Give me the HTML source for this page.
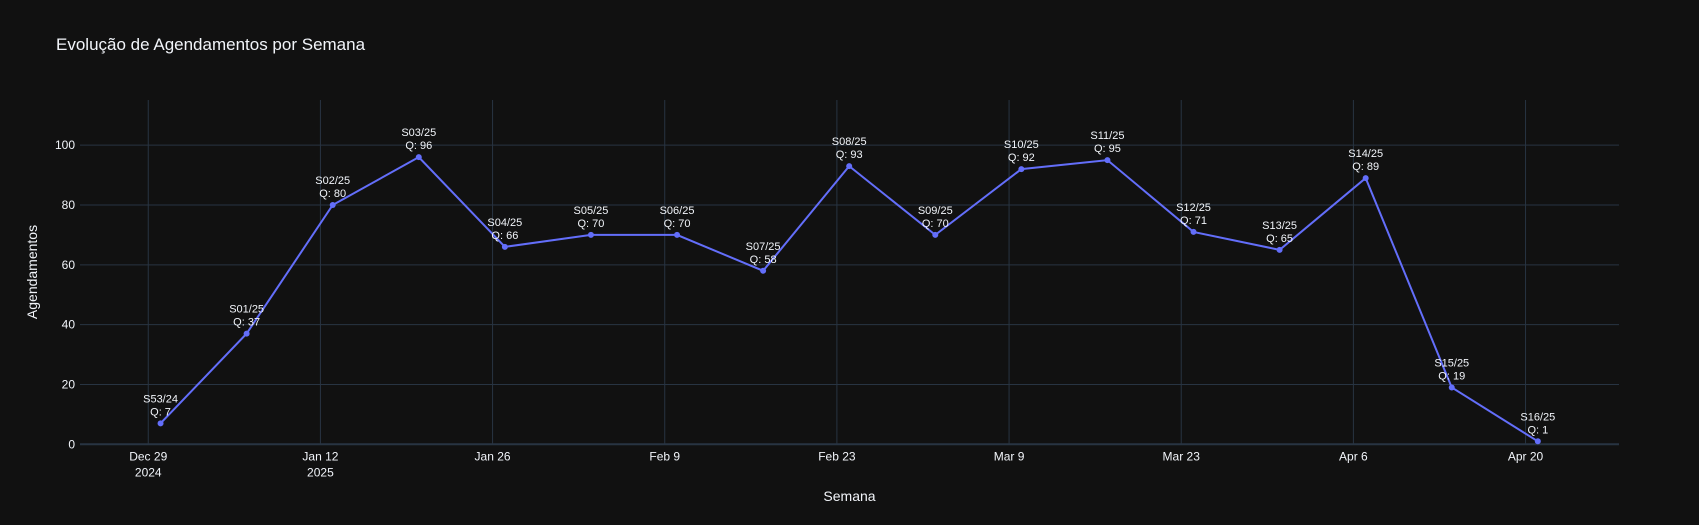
<!DOCTYPE html>
<html><head><meta charset="utf-8"><style>
html,body{margin:0;padding:0;background:#111111;}
svg{display:block;font-family:"Liberation Sans","DejaVu Sans",sans-serif;}
</style></head><body>
<svg id="chart" width="1699" height="525" viewBox="0 0 1699 525">
<rect width="1699" height="525" fill="#111111"/>
<text x="56" y="50" fill="#f2f5fa" font-size="17">Evolução de Agendamentos por Semana</text>
<g id="grid"></g>
<g id="axes"></g>
<g id="series"></g>
<text x="849.5" y="501" fill="#f2f5fa" font-size="14" text-anchor="middle">Semana</text>
<text transform="translate(37,272) rotate(-90)" fill="#f2f5fa" font-size="14" text-anchor="middle">Agendamentos</text>
</svg>
<script>
const weekLabels = ["S53/24","S01/25","S02/25","S03/25","S04/25","S05/25","S06/25","S07/25","S08/25","S09/25","S10/25","S11/25","S12/25","S13/25","S14/25","S15/25","S16/25"];
const values = [7,37,80,96,66,70,70,58,93,70,92,95,71,65,89,19,1];
const yTicks = [0,20,40,60,80,100];
const xTickDays = [0,14,28,42,56,70,84,98,112];
const xTickLabels = ["Dec 29","Jan 12","Jan 26","Feb 9","Feb 23","Mar 9","Mar 23","Apr 6","Apr 20"];
const xTickSub = ["2024","2025","","","","","","",""];
const firstPointDay = 1;

const L=80,R=1619,T=100,B=444.3;
const dMin=-5.55,dMax=119.6,yMin=0,yMax=115.1;
const x=d=>L+(d-dMin)/(dMax-dMin)*(R-L);
const y=v=>B-(v-yMin)/(yMax-yMin)*(B-T);
const NS="http://www.w3.org/2000/svg";
function mk(tag,attrs,parent){const e=document.createElementNS(NS,tag);for(const k in attrs)e.setAttribute(k,attrs[k]);parent.appendChild(e);return e;}
const grid=document.getElementById('grid'),axes=document.getElementById('axes'),ser=document.getElementById('series');

yTicks.forEach(v=>{
  if(v>0){const g=mk('line',{x1:L,x2:R,y1:y(v),y2:y(v),stroke:'#283442','stroke-width':1},grid);
  
  }
  const t=mk('text',{x:L-5,y:y(v)+4,fill:'#f2f5fa','font-size':12,'text-anchor':'end'},axes);
  t.textContent=v;
  
  
});
xTickDays.forEach((d,i)=>{
  const g=mk('line',{x1:x(d),x2:x(d),y1:T,y2:B,stroke:'#283442','stroke-width':1},grid);
  
  
  const t=mk('text',{x:x(d),y:B+16,fill:'#f2f5fa','font-size':12,'text-anchor':'middle'},axes);
  t.textContent=xTickLabels[i];
  
  
  if(xTickSub[i]){const s=mk('text',{x:x(d),y:B+32,fill:'#f2f5fa','font-size':12,'text-anchor':'middle'},axes);
  s.textContent=xTickSub[i];
  
  }
});
const zl=mk('line',{x1:L,x2:R,y1:y(0),y2:y(0),stroke:'#283442','stroke-width':2},axes);



const pts=values.map((v,i)=>[x(firstPointDay+7*i),y(v)]);
const pl=mk('polyline',{points:pts.map(p=>p.join(',')).join(' '),fill:'none',stroke:'#636efa','stroke-width':2},ser);


pts.forEach((p,i)=>{
  const c=mk('circle',{cx:p[0],cy:p[1],r:3,fill:'#636efa'},ser);
  
  
  const t1=mk('text',{x:p[0],y:p[1]-21,fill:'#f2f5fa','font-size':11,'text-anchor':'middle'},ser);
  t1.textContent=weekLabels[i];
  
  
  const t2=mk('text',{x:p[0],y:p[1]-8,fill:'#f2f5fa','font-size':11,'text-anchor':'middle'},ser);
  t2.textContent='Q: '+values[i];
  
  
});
</script>
</body></html>
